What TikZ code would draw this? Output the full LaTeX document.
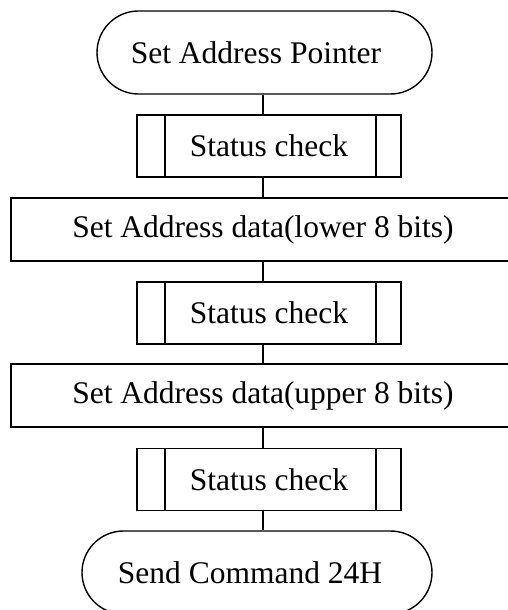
\documentclass[tikz,border=0pt]{standalone}
\usepackage{fontspec}
\setmainfont{Liberation Serif}
\usetikzlibrary{shapes.misc,calc}
\begin{document}
\begin{tikzpicture}[x=1pt,y=1pt,
  every node/.style={font=\fontsize{31.5}{36}\selectfont, line width=1.4pt, inner sep=0pt},
  terminal/.style={draw, rounded rectangle, minimum height=83pt},
  procbox/.style={draw, rectangle, minimum width=504pt, minimum height=63pt},
  subproc/.style={draw, rectangle, minimum width=264pt, minimum height=62pt,
    path picture={
      \draw[line width=1.4pt] ([xshift=28pt]path picture bounding box.north west) -- ([xshift=28pt]path picture bounding box.south west);
      \draw[line width=1.4pt] ([xshift=-25pt]path picture bounding box.north east) -- ([xshift=-25pt]path picture bounding box.south east);
    }},
  conn/.style={draw, line width=1.4pt}]
\useasboundingbox[clip] (0,0) rectangle (508,-610);
\coordinate (spine) at (263,0);
\node[terminal, minimum width=335pt] (start) at (264.5,-52.5) {\hspace*{-17pt}Set Address Pointer};
\node[subproc] (s1) at (269,-146) {Status check};
\node[procbox] (p1) at (263,-229.5) {Set Address data(lower 8 bits)};
\node[subproc] (s2) at (269,-313) {Status check};
\node[procbox] (p2) at (263,-395.5) {Set Address data(upper 8 bits)};
\node[subproc] (s3) at (269,-479.5) {Status check};
\node[terminal, minimum width=350pt] (stop) at (257,-572.5) {\hspace*{-14pt}Send Command 24H};
\draw[conn] (start.south -| spine) -- (s1.north -| spine);
\draw[conn] (s1.south -| spine) -- (p1.north -| spine);
\draw[conn] (p1.south -| spine) -- (s2.north -| spine);
\draw[conn] (s2.south -| spine) -- (p2.north -| spine);
\draw[conn] (p2.south -| spine) -- (s3.north -| spine);
\draw[conn] (s3.south -| spine) -- (stop.north -| spine);
\end{tikzpicture}
\end{document}
